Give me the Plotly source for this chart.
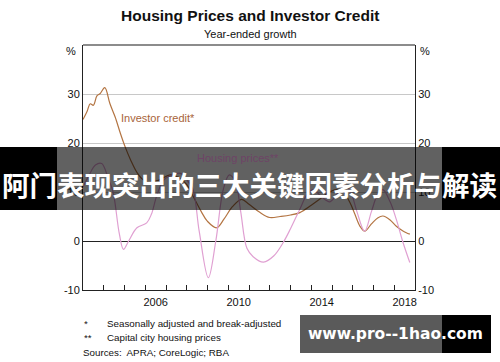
import plotly.graph_objects as go

# ---- data (decimal years) ----
credit_x = [2003.0, 2003.2, 2003.35, 2003.5, 2003.67, 2003.83, 2004.05, 2004.3, 2004.55, 2004.8,
            2005.05, 2005.3, 2005.6, 2005.9, 2006.3, 2006.7, 2007.2, 2007.6, 2008.0, 2008.3,
            2008.7, 2009.0, 2009.44, 2009.8, 2010.2, 2010.64, 2011.0, 2011.5, 2012.0, 2012.5,
            2013.0, 2013.45, 2014.0, 2014.4, 2014.8, 2015.2, 2015.5, 2015.87, 2016.1, 2016.35,
            2016.58, 2016.9, 2017.2, 2017.45, 2017.8, 2018.1, 2018.4, 2018.58, 2018.75]
credit_y = [24.8, 26.5, 28.0, 27.7, 29.6, 30.1, 31.3, 28.0, 25.3, 22.0,
            19.0, 16.5, 14.0, 12.5, 12.0, 12.5, 13.5, 13.0, 11.5, 9.2,
            6.0, 4.0, 2.7, 4.5, 7.0, 8.5, 7.5, 5.9, 4.8, 5.0,
            5.3, 5.8, 7.3, 8.5, 9.8, 10.5, 10.3, 7.8, 5.5, 3.0,
            2.0, 3.5, 4.7, 5.1, 4.3, 3.0, 2.1, 1.7, 1.4]

prices_x = [2003.0, 2003.3, 2003.6, 2003.9, 2004.2, 2004.45, 2004.75, 2004.95, 2005.2, 2005.6,
            2006.07, 2006.3, 2006.55, 2006.9, 2007.3, 2007.7, 2008.0, 2008.3, 2008.6, 2009.04,
            2009.4, 2009.76, 2010.05, 2010.35, 2010.6, 2010.9, 2011.2, 2011.7, 2012.2, 2012.65,
            2013.0, 2013.45, 2013.8, 2014.1, 2014.5, 2014.9, 2015.3, 2015.6, 2015.9, 2016.2,
            2016.57, 2016.9, 2017.2, 2017.45, 2017.8, 2018.1, 2018.4, 2018.75]
prices_y = [11.0, 13.5, 15.5, 15.8, 13.0, 10.0, 1.5, -1.7, 0.0, 2.7,
            3.7, 5.5, 9.2, 12.5, 13.5, 13.8, 12.5, 10.5, 2.0, -7.5,
            0.0, 10.5, 13.5, 12.0, 6.0, -1.5, -3.2, -4.3, -3.0, -0.3,
            2.5, 6.5, 9.5, 10.5, 9.0, 8.0, 10.0, 11.5, 10.0, 6.0,
            2.0, 6.0, 9.5, 10.5, 8.0, 4.4, 0.0, -4.4]

year_ticks = list(range(2004, 2019))
label_pos = [2006.5, 2010.5, 2014.5, 2018.5]
label_text = ["2006", "2010", "2014", "2018"]
y_ticks = [-10, 0, 10, 20, 30]

W, H = 500, 362
ML, MR, MT, MB = 83, 85, 45, 72
PW, PH = W - ML - MR, H - MT - MB

def px(x):
    return (x - ML) / PW

def py(y):
    return (H - MB - y) / PH

BROWN = "#b37442"
PINK = "#e0a0d2"
FONT = "Liberation Sans, Arial, sans-serif"

fig = go.Figure()
fig.add_trace(go.Scatter(x=credit_x, y=credit_y, mode="lines", line=dict(color=BROWN, width=1.2),
                         line_shape="spline", hoverinfo="skip", showlegend=False))
fig.add_trace(go.Scatter(x=prices_x, y=prices_y, mode="lines", line=dict(color=PINK, width=1.2),
                         line_shape="spline", hoverinfo="skip", showlegend=False, yaxis="y2"))

fig.update_layout(
    width=W, height=H,
    margin=dict(l=ML, r=MR, t=MT, b=MB),
    paper_bgcolor="white", plot_bgcolor="white",
    font=dict(family=FONT, size=11, color="#111"),
    xaxis=dict(range=[2003, 2019], tickvals=label_pos, ticktext=label_text, ticks="",
               showgrid=False, zeroline=False, showline=True, linecolor="#222", linewidth=1,
               tickfont=dict(size=11), ticklabelstandoff=2,
               minor=dict(tickvals=year_ticks, ticks="inside", ticklen=5, tickcolor="#222",
                          showgrid=False)),
    yaxis=dict(range=[-10, 40], tickvals=y_ticks, ticktext=[str(v) for v in y_ticks], ticks="",
               showgrid=True, gridcolor="#c8c8c8", gridwidth=1,
               zeroline=True, zerolinecolor="#222", zerolinewidth=1,
               showline=True, linecolor="#222", linewidth=1, tickfont=dict(size=11)),
    yaxis2=dict(range=[-10, 40], tickvals=y_ticks, ticktext=[str(v) for v in y_ticks], ticks="",
                overlaying="y", side="right", showgrid=False, zeroline=False,
                showline=True, linecolor="#222", linewidth=1, tickfont=dict(size=11)),
)

shapes = [
    # top border
    dict(type="line", xref="paper", yref="paper", x0=0, x1=1, y0=1, y1=1,
         line=dict(color="#8c8c8c", width=2), layer="above"),
    # banner
    dict(type="rect", xref="paper", yref="paper", x0=px(0), x1=px(57), y0=py(210), y1=py(147),
         fillcolor="black", line=dict(width=0), layer="above"),
    dict(type="rect", xref="paper", yref="paper", x0=px(57), x1=px(442), y0=py(210), y1=py(147),
         fillcolor="rgba(0,0,0,0.62)", line=dict(width=0), layer="above"),
    dict(type="rect", xref="paper", yref="paper", x0=px(442), x1=px(500), y0=py(210), y1=py(147),
         fillcolor="black", line=dict(width=0), layer="above"),
    # watermark box
    dict(type="rect", xref="paper", yref="paper", x0=px(300), x1=px(442), y0=py(353), y1=py(315),
         fillcolor="#5a5a5a", line=dict(width=0), layer="above"),
    dict(type="rect", xref="paper", yref="paper", x0=px(442), x1=px(491), y0=py(353), y1=py(315),
         fillcolor="black", line=dict(width=0), layer="above"),
]
fig.update_layout(shapes=shapes)

def ann(text, x, y, size=11, color="#111", xanchor="left", yanchor="middle", bold=False, family=FONT):
    if bold:
        text = "<b>" + text + "</b>"
    fig.add_annotation(text=text, xref="paper", yref="paper", x=px(x), y=py(y), showarrow=False,
                       xanchor=xanchor, yanchor=yanchor, font=dict(size=size, color=color, family=family))

ann("Housing Prices and Investor Credit", 250, 15, size=15.5, xanchor="center", bold=True)
ann("Year-ended growth", 250, 34, size=11, xanchor="center")
ann("%", 78, 51, size=11, xanchor="right")
ann("%", 418, 51, size=11, xanchor="left")
ann("Investor credit*", 119, 118, size=11, color="#a8643a")
ann("Housing prices**", 195, 158, size=11, color="#6e4466")
ann("*", 82, 323, size=9.8)
ann("Seasonally adjusted and break-adjusted", 105, 323, size=9.8)
ann("**", 82, 337, size=9.8)
ann("Capital city housing prices", 105, 337, size=9.8)
ann("Sources:  APRA; CoreLogic; RBA", 81, 352, size=9.8)
ann("阿门表现突出的三大关键因素分析与解读", 249, 184, size=27.5, color="white", xanchor="center",
    bold=True, family="Noto Sans CJK SC")
ann("www.pro--1hao.com", 395, 334, size=15.5, color="white", xanchor="center", bold=True,
    family="DejaVu Sans")

fig.write_html("out.html", config={"displayModeBar": False},
               post_script="document.body.style.margin='0';")
